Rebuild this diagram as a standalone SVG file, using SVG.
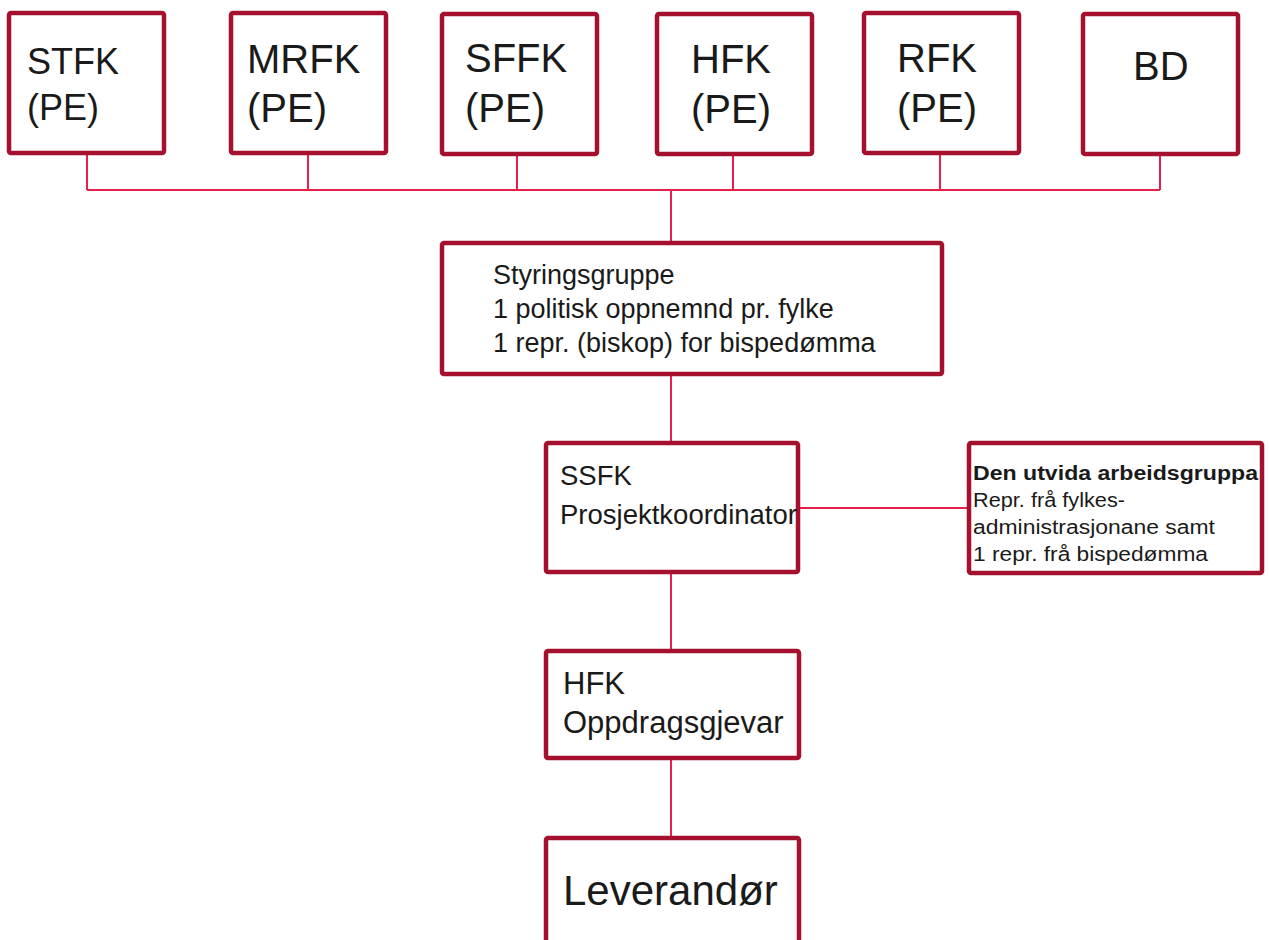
<svg xmlns="http://www.w3.org/2000/svg" width="1269" height="940" viewBox="0 0 1269 940">
<style>
.box{fill:#ffffff;stroke:#a5102f;stroke-width:4.5}
.conn{fill:none;stroke:#e5204d;stroke-width:2}
text{font-family:"Liberation Sans",Arial,sans-serif;fill:#1a1a1a}
.t36{font-size:36px}
.t40{font-size:40px}
.t27{font-size:27px}
.t20{font-size:20px}
.b{font-weight:bold}
</style>
<rect width="1269" height="940" fill="#ffffff"/>
<g id="connectors">
<path class="conn" d="M87 153V190M308 153V190M517 154V190M733 154V190M940 153V190M1160 154V190M87 190H1160M671 190V243"/>
<path class="conn" d="M671 374V443"/>
<path class="conn" d="M798 508H969"/>
<path class="conn" d="M671 572V651"/>
<path class="conn" d="M671 758V838"/>
</g>
<g id="stfk">
<rect class="box" x="9" y="13" width="155" height="140" rx="2"/>
<text class="t36" x="27" y="74">STFK</text>
<text class="t36" x="27" y="120">(PE)</text>
</g>
<g id="mrfk">
<rect class="box" x="231" y="13" width="155" height="140" rx="2"/>
<text class="t40" x="247" y="73">MRFK</text>
<text class="t40" x="247" y="122">(PE)</text>
</g>
<g id="sffk">
<rect class="box" x="442" y="14" width="155" height="140" rx="2"/>
<text class="t40" x="465" y="72">SFFK</text>
<text class="t40" x="465" y="122">(PE)</text>
</g>
<g id="hfk-pe">
<rect class="box" x="657" y="14" width="155" height="140" rx="2"/>
<text class="t40" x="691" y="73">HFK</text>
<text class="t40" x="691" y="123">(PE)</text>
</g>
<g id="rfk">
<rect class="box" x="864" y="13" width="155" height="140" rx="2"/>
<text class="t40" x="897" y="72">RFK</text>
<text class="t40" x="897" y="122">(PE)</text>
</g>
<g id="bd">
<rect class="box" x="1083" y="14" width="155" height="140" rx="2"/>
<text class="t40" x="1133" y="80">BD</text>
</g>
<g id="styringsgruppe">
<rect class="box" x="442" y="243" width="500" height="131" rx="2"/>
<text class="t27" x="493" y="284">Styringsgruppe</text>
<text class="t27" x="493" y="318">1 politisk oppnemnd pr. fylke</text>
<text class="t27" x="493" y="352">1 repr. (biskop) for bispedømma</text>
</g>
<g id="ssfk">
<rect class="box" x="546" y="443" width="252" height="129" rx="2"/>
<text x="560" y="485" style="font-size:27.5px">SSFK</text>
<text x="560" y="524" style="font-size:27.5px">Prosjektkoordinator</text>
</g>
<g id="arbeidsgruppa">
<rect class="box" x="969" y="443" width="293" height="130" rx="2"/>
<text class="t20 b" x="973" y="480" textLength="285" lengthAdjust="spacingAndGlyphs">Den utvida arbeidsgruppa</text>
<text class="t20" x="973" y="507" textLength="152" lengthAdjust="spacingAndGlyphs">Repr. frå fylkes-</text>
<text class="t20" x="973" y="534" textLength="242" lengthAdjust="spacingAndGlyphs">administrasjonane samt</text>
<text class="t20" x="973" y="561" textLength="235" lengthAdjust="spacingAndGlyphs">1 repr. frå bispedømma</text>
</g>
<g id="hfk-oppdragsgjevar">
<rect class="box" x="546" y="651" width="253" height="107" rx="2"/>
<text x="563" y="694" style="font-size:31px">HFK</text>
<text x="563" y="733" style="font-size:31px">Oppdragsgjevar</text>
</g>
<g id="leverandor">
<rect class="box" x="546" y="838" width="253" height="115" rx="2"/>
<text x="563" y="905" style="font-size:42px">Leverandør</text>
</g>
</svg>
